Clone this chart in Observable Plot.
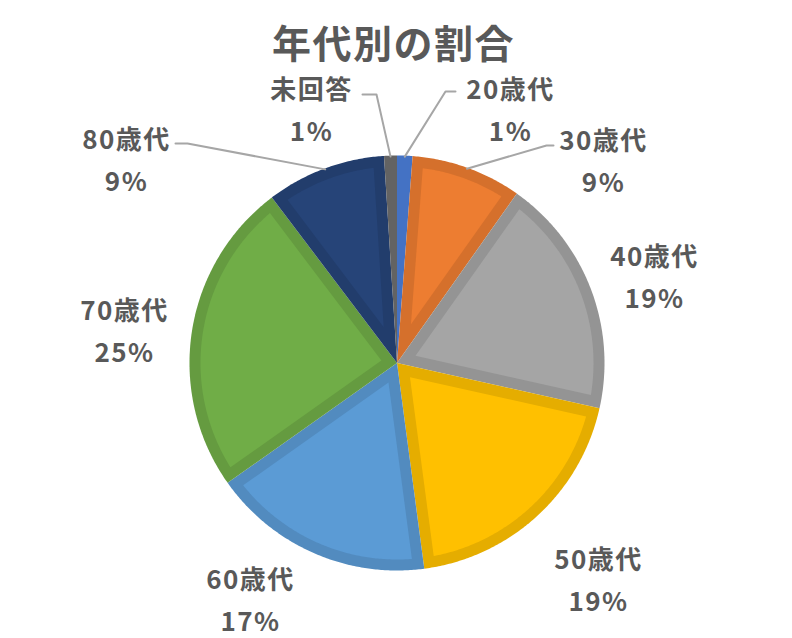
<!DOCTYPE html>
<html>
<head>
<meta charset="utf-8">
<script src="https://cdn.jsdelivr.net/npm/d3@7"></script>
<script src="https://cdn.jsdelivr.net/npm/@observablehq/plot@0.6"></script>
<style>
  html, body { margin: 0; padding: 0; background: #fff; }
  #chart svg { display: block; }
</style>
</head>
<body>
<div id="chart"></div>
<script>
// ---- data ----
const title = "年代別の割合";
const categories = ["20歳代", "30歳代", "40歳代", "50歳代", "60歳代", "70歳代", "80歳代", "未回答"];
const shares = [1.2, 8.6, 18.7, 19.4, 17.3, 24.5, 9.3, 1.0];
const colors = ["#4472C4", "#ED7D31", "#A5A5A5", "#FFC000", "#5B9BD5", "#70AD47", "#264478", "#636363"];

// ---- layout ----
const W = 792, H = 638;
const cx = 396.5, cy = 362.5, R = 207.5, inset = 11;
const labelPos = [[510, 106], [603, 157], [654, 273], [598, 576], [250, 596], [124, 327], [126, 156], [311, 106]];
// leader lines: [label end, elbow] for slices that have one
const leaders = {
  "20歳代": [[455, 91], [445, 91]],
  "30歳代": [[553, 145], [546, 145]],
  "80歳代": [[175, 143], [187, 143]],
  "未回答": [[362, 94], [376, 94]]
};

const total = d3.sum(shares);
const toRad = Math.PI / 180;
const pt = (angDeg, r) => [cx + r * Math.sin(angDeg * toRad), cy - r * Math.cos(angDeg * toRad)];

let acc = 0;
const slices = categories.map((c, i) => {
  const a0 = acc / total * 360;
  acc += shares[i];
  const a1 = acc / total * 360;
  return {cat: c, a0, a1, mid: (a0 + a1) / 2, color: colors[i], dark: d3.color(colors[i]).darker(0.3).formatHex(), pct: Math.round(shares[i]) + "%", label: labelPos[i]};
});

function wedge(a0, a1, r, apexDist) {
  const pts = [];
  const mid = (a0 + a1) / 2;
  pts.push(apexDist > 0 ? pt(mid, apexDist) : [cx, cy]);
  const n = Math.max(2, Math.ceil((a1 - a0) / 0.5));
  for (let k = 0; k <= n; k++) pts.push(pt(a0 + (a1 - a0) * k / n, r));
  pts.push(pts[0]);
  return pts;
}

const outerRows = [];
const innerRows = [];
slices.forEach(s => {
  const theta = s.a1 - s.a0;
  const small = theta < 8;
  wedge(s.a0, s.a1, R, 0).forEach(([x, y]) => outerRows.push({x, y, cat: s.cat, fill: small ? s.color : s.dark}));
  if (!small) {
    const r = R - inset;
    const da = Math.asin(inset / r) / toRad;
    const apex = inset / Math.sin(theta / 2 * toRad);
    wedge(s.a0 + da, s.a1 - da, r, apex).forEach(([x, y]) => innerRows.push({x, y, cat: s.cat, fill: s.color}));
  }
});

const leaderRows = [];
slices.forEach(s => {
  const L = leaders[s.cat];
  if (!L) return;
  const edge = pt(s.mid, R - 1);
  [L[0], L[1], edge].forEach(([x, y]) => leaderRows.push({x, y, cat: s.cat}));
});

const labelRows = slices.map(s => ({x: s.label[0], y: s.label[1], text: s.cat + "\n" + s.pct}));

const font = "'Noto Sans CJK JP', 'Noto Sans', sans-serif";

const chart = Plot.plot({
  width: W, height: H, margin: 0,
  x: {domain: [0, W], range: [0, W], axis: null},
  y: {domain: [0, H], range: [0, H], axis: null},
  style: {background: "#fff", fontFamily: font},
  marks: [
    Plot.line(outerRows, {x: "x", y: "y", z: "cat", fill: "fill", stroke: "none", curve: "linear"}),
    Plot.line(innerRows, {x: "x", y: "y", z: "cat", fill: "fill", stroke: "none", curve: "linear"}),
    Plot.line(leaderRows, {x: "x", y: "y", z: "cat", stroke: "#A6A6A6", strokeWidth: 2}),
    Plot.text(labelRows, {x: "x", y: "y", text: "text", fill: "#595959", fontSize: 26, fontWeight: "bold", lineHeight: 1.63, textAnchor: "middle", fontFamily: font}),
    Plot.text([title], {x: () => 393, y: () => 45, text: d => d, fill: "#595959", fontSize: 39, fontWeight: "bold", textAnchor: "middle", fontFamily: font})
  ]
});
chart.querySelectorAll("text").forEach(t => t.setAttribute("letter-spacing", "1.5"));
document.getElementById("chart").appendChild(chart);
</script>
</body>
</html>
